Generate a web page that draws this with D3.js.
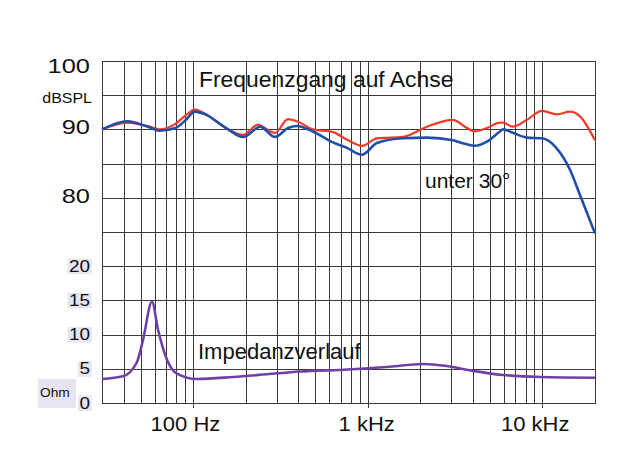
<!DOCTYPE html>
<html>
<head>
<meta charset="utf-8">
<script src="https://cdn.jsdelivr.net/npm/d3@7"></script>
<style>
  body { margin: 0; background: #fff; }
  text { font-family: "Liberation Sans", Arial, sans-serif; fill: #111; }
</style>
</head>
<body>
<script>
// frequency points (Hz) and levels
const freqSpl = [30, 42, 56, 64, 79, 90, 102, 117, 152, 193, 235, 241, 294, 349, 392, 484, 631, 759, 925, 1127, 1589, 2180, 3070, 3596, 4106, 4811, 5709, 5943, 6778, 8150, 9934, 12100, 14380, 16410, 20000];
const onAxis = [90.0, 91.0, 90.4, 90.0, 90.8, 92.0, 92.9, 92.3, 90.3, 89.2, 90.7, 90.6, 89.5, 91.5, 91.2, 90.0, 89.6, 88.5, 87.6, 88.7, 88.9, 90.4, 91.4, 90.4, 89.7, 90.2, 91.0, 91.0, 90.4, 91.4, 92.7, 92.2, 92.6, 91.9, 88.4];
const offAxis = [90.0, 91.2, 90.3, 89.8, 90.2, 91.3, 92.6, 92.2, 90.3, 88.9, 90.3, 90.4, 88.9, 90.2, 90.5, 89.7, 88.1, 87.3, 86.3, 88.0, 88.7, 88.8, 88.4, 87.9, 87.6, 88.2, 89.7, 90.0, 89.5, 88.8, 88.7, 87.2, 84.1, 80.4, 74.8];

const freqImp = [30, 39.5, 47.6, 51.5, 58, 62.8, 70.8, 80.7, 105, 169, 264, 408, 769, 1337, 2066, 2836, 3998, 5940, 9690, 20000];
const impedance = [3.5, 3.9, 6.0, 9.2, 14.8, 10.7, 6.3, 4.3, 3.5, 3.8, 4.2, 4.6, 4.9, 5.3, 5.7, 5.4, 4.7, 4.1, 3.8, 3.7];

const splTicks = [100, 90, 80];
const ohmTicks = [20, 15, 10, 5, 0];
const xLabels = [[100, "100 Hz"], [1000, "1 kHz"], [10000, "10 kHz"]];

const width = 640, height = 450;
const plotLeft = 102, plotRight = 595, plotTop = 61, plotBottom = 403;

const svg = d3.select("body").append("svg")
  .attr("width", width)
  .attr("height", height);

const x = d3.scaleLog().domain([30, 20000]).range([plotLeft, plotRight]);
const y = d3.scaleLinear().domain([50, 100]).range([plotBottom, plotTop]);
const yOhm = d3.scaleLinear().domain([0, 20]).range([plotBottom, y(70)]);

// the source picture is stretched sideways, so texts get a fixed length
function wideText(sel, size, widthPerEm) {
  sel.attr("font-size", size)
    .attr("lengthAdjust", "spacingAndGlyphs")
    .attr("textLength", function() { return this.getComputedTextLength() * widthPerEm; });
}

// grid
const gridFreqs = [];
for (let dec = 10; dec <= 10000; dec *= 10) {
  for (let m = 1; m <= 9; m++) {
    const f = dec * m;
    if (f > 30 && f < 20000) gridFreqs.push(f);
  }
}
const grid = svg.append("g").attr("stroke", "#3a3a3a").attr("stroke-width", 1).attr("shape-rendering", "crispEdges");
grid.selectAll("line.v")
  .data(gridFreqs)
  .join("line")
  .attr("class", "v")
  .attr("x1", d => Math.round(x(d)) + 0.5)
  .attr("x2", d => Math.round(x(d)) + 0.5)
  .attr("y1", plotTop)
  .attr("y2", d => [100, 1000, 10000].includes(d) ? plotBottom + 5 : plotBottom);
grid.selectAll("line.h")
  .data(d3.range(50, 101, 5))
  .join("line")
  .attr("class", "h")
  .attr("x1", plotLeft)
  .attr("x2", plotRight)
  .attr("y1", d => Math.round(y(d)) + 0.5)
  .attr("y2", d => Math.round(y(d)) + 0.5);
grid.append("rect")
  .attr("x", plotLeft + 0.5).attr("y", plotTop + 0.5)
  .attr("width", plotRight - plotLeft).attr("height", plotBottom - plotTop)
  .attr("fill", "none");

// curves
const splLine = vals => d3.line()
  .x((d, i) => x(freqSpl[i]))
  .y(d => y(d))
  .curve(d3.curveMonotoneX)(vals);

svg.append("path")
  .attr("d", splLine(onAxis))
  .attr("fill", "none")
  .attr("stroke", "#f03a2a")
  .attr("stroke-width", 2.2);

svg.append("path")
  .attr("d", splLine(offAxis))
  .attr("fill", "none")
  .attr("stroke", "#1f4fa8")
  .attr("stroke-width", 2.6);

svg.append("path")
  .attr("d", d3.line()
    .x((d, i) => x(freqImp[i]))
    .y(d => yOhm(d))
    .curve(d3.curveMonotoneX)(impedance))
  .attr("fill", "none")
  .attr("stroke", "#7040a8")
  .attr("stroke-width", 2.6);

// y labels
svg.selectAll("text.spl")
  .data(splTicks)
  .join("text")
  .attr("class", "spl")
  .attr("x", 90)
  .attr("y", d => Math.max(y(d) + 5, plotTop + 12))
  .attr("text-anchor", "end")
  .text(d => d)
  .call(wideText, 20, 1.27);

svg.append("text")
  .attr("x", 92).attr("y", y(95) + 8)
  .attr("text-anchor", "end")
  .text("dBSPL")
  .call(wideText, 14.5, 1.1);

const ohmG = svg.append("g");
const ohmText = ohmG.selectAll("text")
  .data(ohmTicks)
  .join("text")
  .attr("x", 90)
  .attr("y", d => yOhm(d) + 5.5)
  .attr("text-anchor", "end")
  .text(d => d)
  .call(wideText, 16, 1.18);
ohmText.each(function() {
  const b = this.getBBox();
  ohmG.insert("rect", "text")
    .attr("x", b.x - 1.5)
    .attr("y", b.y + 1)
    .attr("width", b.width + 3)
    .attr("height", b.height - 1.5)
    .attr("fill", "#e6e6f3");
});

svg.append("rect")
  .attr("x", 38).attr("y", 379)
  .attr("width", 38).attr("height", 29)
  .attr("fill", "#e6e6f3");
svg.append("text")
  .attr("x", 40).attr("y", 397)
  .text("Ohm")
  .call(wideText, 12.5, 1.1);

// x labels
svg.selectAll("text.xl")
  .data(xLabels)
  .join("text")
  .attr("class", "xl")
  .attr("x", d => x(d[0]) + 27)
  .attr("y", 431)
  .attr("text-anchor", "end")
  .text(d => d[1])
  .call(wideText, 20, 1.1);

// annotations
svg.append("text").attr("x", 199).attr("y", 87).text("Frequenzgang auf Achse").call(wideText, 22, 1.04);
svg.append("text").attr("x", 425).attr("y", 188).text("unter 30°").call(wideText, 21, 1.0);
svg.append("text").attr("x", 198).attr("y", 359).text("Impedanzverlauf").call(wideText, 22, 1.0);
</script>
</body>
</html>
